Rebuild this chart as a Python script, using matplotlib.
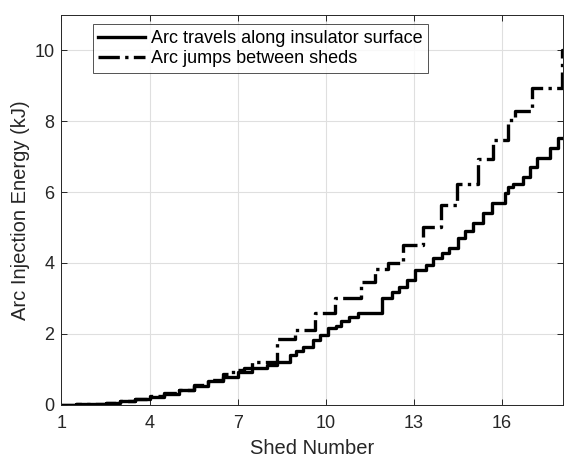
import matplotlib
matplotlib.use('Agg')
import matplotlib.pyplot as plt

plt.rcParams['font.family'] = ['Liberation Sans', 'DejaVu Sans']

# arc travels along insulator surface (step breakpoints)
shed_surface = [1.0, 1.5, 2.0, 2.5, 3.0, 3.5, 4.0, 4.5, 5.0, 5.5, 6.0, 6.5, 7.0, 7.5,
                8.0, 8.33, 8.78, 9.0, 9.22, 9.56, 9.8, 10.07, 10.35, 10.5, 10.8, 11.1,
                11.9, 12.24, 12.5, 12.75, 13.05, 13.4, 13.65, 13.95, 14.2, 14.5, 14.75,
                15.02, 15.36, 15.65, 16.1, 16.21, 16.38, 16.72, 16.95, 17.18, 17.63,
                17.91, 18.07]
energy_surface = [0.0, 0.01, 0.03, 0.06, 0.11, 0.16, 0.23, 0.31, 0.41, 0.53, 0.66, 0.79,
                  0.92, 1.03, 1.12, 1.22, 1.41, 1.52, 1.64, 1.83, 1.97, 2.17, 2.22, 2.35,
                  2.49, 2.58, 3.0, 3.19, 3.33, 3.52, 3.8, 3.94, 4.13, 4.27, 4.41, 4.7,
                  4.9, 5.12, 5.4, 5.68, 5.96, 6.15, 6.24, 6.43, 6.71, 6.95, 7.23, 7.51,
                  7.51]

# arc jumps between sheds (step breakpoints)
shed_jump = [1.0, 1.5, 2.0, 2.5, 3.0, 3.5, 4.0, 4.5, 5.0, 5.5, 6.0, 6.5, 6.85, 7.2,
             7.48, 8.33, 8.95, 9.63, 10.31, 11.19, 11.67, 12.1, 12.64, 13.32, 13.91,
             14.48, 15.17, 15.7, 16.19, 16.44, 17.03, 18.05, 18.07]
energy_jump = [0.0, 0.01, 0.03, 0.06, 0.11, 0.17, 0.24, 0.32, 0.43, 0.56, 0.71, 0.88,
               0.99, 1.03, 1.22, 1.85, 2.11, 2.58, 3.0, 3.46, 3.82, 3.99, 4.51, 5.02,
               5.63, 6.24, 6.92, 7.48, 8.03, 8.28, 8.92, 10.0, 10.0]

fig = plt.figure(figsize=(5.64, 4.59), dpi=100)
ax = fig.add_axes([0.109, 0.118, 0.889, 0.85])

ax.plot(shed_surface, energy_surface, color='black', lw=2.4, drawstyle='steps-post',
        label='Arc travels along insulator surface')
ax.plot(shed_jump, energy_jump, color='black', lw=2.4, ls='-.', drawstyle='steps-post',
        label='Arc jumps between sheds')

ax.set_xlim(1, 18.07)
ax.set_ylim(0, 11)
ax.set_xticks([1, 4, 7, 10, 13, 16])
ax.set_yticks([0, 2, 4, 6, 8, 10])
ax.grid(True, color='#dfdfdf', lw=0.8)
ax.set_axisbelow(True)
ax.tick_params(direction='in', top=True, right=True, labelsize=13, colors='#262626',
               length=4, width=0.7)
ax.tick_params(axis='x', pad=7)
ax.tick_params(axis='y', pad=5)
for s in ax.spines.values():
    s.set_color('#262626')
    s.set_linewidth(0.7)

ax.set_xlabel('Shed Number', fontsize=14.5, color='#262626', labelpad=5)
ax.set_ylabel('Arc Injection Energy (kJ)', fontsize=14.5, color='#262626', labelpad=3)

leg = ax.legend(loc='upper left', bbox_to_anchor=(0.063, 0.975), borderaxespad=0,
                fontsize=13, frameon=True, fancybox=False, handlelength=2.6,
                handletextpad=0.3, borderpad=0.3, labelspacing=0.2)
leg.get_frame().set_edgecolor('#262626')
leg.get_frame().set_linewidth(0.7)

fig.savefig('out.png', dpi=100)
